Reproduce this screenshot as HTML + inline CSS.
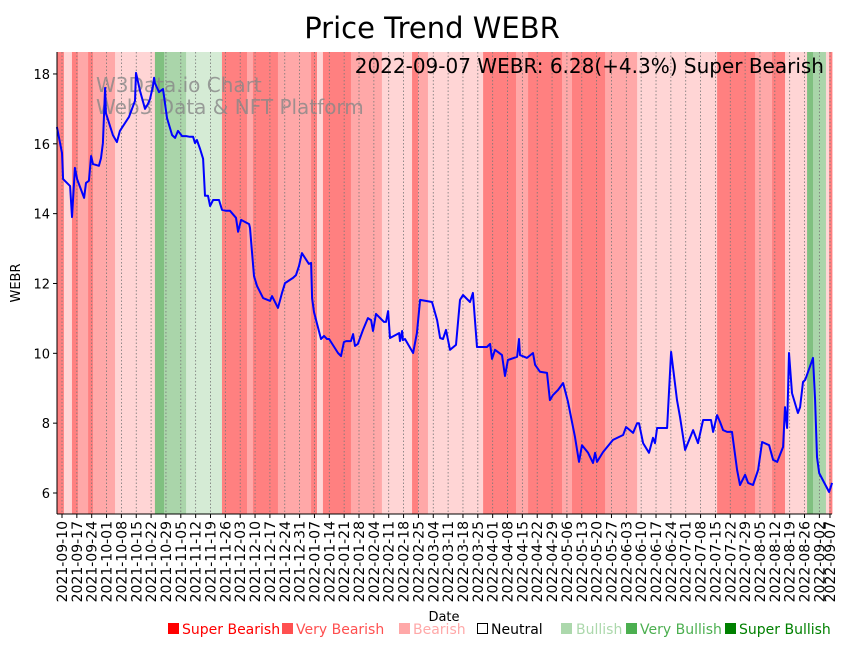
<!DOCTYPE html>
<html><head><meta charset="utf-8"><style>
body{margin:0;background:#fff;}
svg{display:block;font-family:"DejaVu Sans","Liberation Sans",sans-serif;}
</style></head><body>
<svg id="chart" width="851" height="646" viewBox="0 0 851 646" xmlns="http://www.w3.org/2000/svg">
<text x="432" y="38" font-size="29" text-anchor="middle">Price Trend WEBR</text>
<g id="bands"></g><g id="grid"></g>
<text x="96" y="92" font-size="20" fill="#888" opacity="0.8">W3Data.io Chart</text>
<text x="96" y="114" font-size="20" fill="#888" opacity="0.8">Web3 Data &amp; NFT Platform</text>
<g id="line"></g>
<text x="824" y="73" font-size="20" text-anchor="end">2022-09-07 WEBR: 6.28(+4.3%) Super Bearish</text>
<g id="axes"></g>
<text x="444" y="621" font-size="13" text-anchor="middle">Date</text>
<text transform="translate(20,283) rotate(-90)" font-size="13" text-anchor="middle">WEBR</text>
<g font-size="14">
<rect x="168" y="623" width="11" height="11" fill="#ff0000"/>
<text x="182" y="634" fill="#ff0000">Super Bearish</text>
<rect x="282" y="623" width="11" height="11" fill="#ff5050"/>
<text x="296" y="634" fill="#ff5050">Very Bearish</text>
<rect x="399" y="623" width="11" height="11" fill="#ffa8a8"/>
<text x="413" y="634" fill="#ffa8a8">Bearish</text>
<rect x="477.5" y="623.5" width="10" height="10" fill="none" stroke="#000"/>
<text x="491" y="634">Neutral</text>
<rect x="561" y="623" width="11" height="11" fill="#acd8ac"/>
<text x="576" y="634" fill="#acd8ac">Bullish</text>
<rect x="626" y="623" width="11" height="11" fill="#4caf50"/>
<text x="640" y="634" fill="#4caf50">Very Bullish</text>
<rect x="725" y="623" width="11" height="11" fill="#008000"/>
<text x="739" y="634" fill="#008000">Super Bullish</text>
</g>
</svg>
<script>
// days since 2021-09-10
const priceDays=[-2.4,0,0.5,3.8,4.7,6.1,7.1,10.4,11.3,12.7,13.7,14.6,17.4,18.4,19.3,20.3,20.7,24.0,25.9,27.3,31.6,34.4,34.9,36.8,39.1,40.5,41.5,42.9,43.4,43.8,45.7,47.6,49.5,51.9,53.3,54.7,56.6,58.5,60.3,61.8,62.7,63.6,65.1,66.5,67.4,68.8,69.8,71.2,74.0,75.4,77.3,79.2,82.0,83.0,84.4,88.2,88.6,90.5,91.9,94.8,98.1,99.0,101.8,103.7,105.1,108.9,110.3,111.7,113.1,116.4,117.4,117.9,118.8,122.1,123.5,124.9,125.9,130.1,131.5,132.9,133.9,136.2,137.2,138.1,139.5,141.9,144.2,145.7,146.6,148.0,151.8,152.7,153.7,154.6,157.5,158.9,159.3,160.3,160.7,161.7,165.5,167.3,168.8,174.4,176.8,178.2,179.6,181.0,182.9,185.7,187.6,189.0,192.3,193.7,195.6,200.3,201.8,202.7,204.1,207.4,208.8,210.2,214.5,215.4,215.9,219.2,222.0,223.0,225.3,228.6,230.0,231.5,233.8,236.2,238.5,241.8,243.7,245.1,248.0,250.3,251.3,252.2,255.0,259.7,264.5,265.9,269.2,271.1,272.0,273.9,276.7,278.6,279.5,280.5,285.2,287.1,289.9,291.3,293.7,297.5,299.8,302.2,305.9,306.9,308.8,310.2,311.6,313.5,315.8,318.2,319.6,322.0,323.4,325.7,328.1,330.0,333.3,335.2,337.1,339.9,340.8,341.8,342.7,344.1,346.9,347.9,349.3,350.3,354.0,355.0,355.9,356.9,361.6,363.0];
const priceValues=[16.48,15.74,14.99,14.79,13.90,15.31,14.99,14.45,14.88,14.94,15.65,15.42,15.37,15.59,16.02,17.60,16.88,16.25,16.05,16.37,16.77,17.23,18.03,17.51,17.00,17.14,17.28,17.66,17.89,17.74,17.48,17.57,16.74,16.25,16.17,16.37,16.22,16.22,16.20,16.20,16.02,16.11,15.85,15.57,14.51,14.51,14.22,14.39,14.39,14.11,14.08,14.08,13.88,13.48,13.82,13.70,13.59,12.21,11.93,11.58,11.50,11.64,11.30,11.73,12.01,12.16,12.24,12.50,12.87,12.56,12.59,11.58,11.18,10.41,10.50,10.41,10.41,10.01,9.92,10.32,10.35,10.35,10.55,10.21,10.27,10.67,11.01,10.95,10.64,11.13,10.90,10.90,11.21,10.44,10.53,10.58,10.35,10.64,10.38,10.41,10.01,10.58,11.53,11.47,10.95,10.44,10.41,10.67,10.10,10.24,11.53,11.67,11.47,11.73,10.18,10.18,10.27,9.84,10.10,9.95,9.35,9.81,9.90,10.41,9.95,9.87,10.01,9.67,9.47,9.44,8.66,8.81,8.95,9.15,8.61,7.60,6.89,7.37,7.15,6.86,7.15,6.89,7.17,7.52,7.66,7.89,7.72,8.00,8.00,7.43,7.15,7.58,7.43,7.86,7.86,10.04,8.66,8.18,7.23,7.80,7.43,8.09,8.09,7.75,8.23,8.03,7.80,7.75,7.75,6.66,6.23,6.52,6.29,6.23,6.66,7.46,7.37,6.95,6.89,7.32,8.46,7.86,10.01,8.86,8.29,8.46,9.18,9.24,9.87,8.66,7.03,6.57,6.03,6.29];
const bandBounds=[-2.4,0.9,4.7,7.5,12.3,14.6,25.0,43.8,48.1,58.5,75.4,87.2,90.0,101.8,117.4,120.2,123.0,136.2,150.8,165.0,167.8,172.5,198.5,214.0,219.7,235.7,240.4,256.0,271.1,308.8,326.7,334.7,340.8,351.2,354.0,360.1,361.6,363.0];
const bandLevels=[3,1,3,2,3,2,1,-3,-2,-1,3,2,3,2,3,1,3,2,1,3,2,1,3,2,3,2,3,2,1,3,2,3,1,-3,-2,1,3];
const yTicks=[6,8,10,12,14,16,18];
const xTickDays=[];for(let d=0;d<=357;d+=7)xTickDays.push(d);xTickDays.push(362);

const NS="http://www.w3.org/2000/svg";
const L=57,R=832,T=52,B=514;
const xs=d=>62+d*2.1215;
const ys=v=>493-(v-6)*34.92;
function mk(tag,attrs,parent){const e=document.createElementNS(NS,tag);for(const k in attrs)e.setAttribute(k,attrs[k]);parent.appendChild(e);return e;}
const levelColor={3:"#ff8080","2":"#ffa8a8","1":"#ffd5d5","-1":"#d5ebd5","-2":"#aad5aa","-3":"#80c080"};
const gB=document.getElementById('bands');
for(let i=0;i<bandLevels.length;i++){
  const x0=xs(bandBounds[i]),x1=xs(bandBounds[i+1]);
  const r=mk('rect',{x:x0,y:T,width:Math.max(0,x1-x0)+0.3,height:B-T,fill:levelColor[bandLevels[i]]},gB);
  
  
}
const gG=document.getElementById('grid');
const gA=document.getElementById('axes');
const base=new Date(Date.UTC(2021,8,10));
xTickDays.forEach(d=>{
  const x=xs(d);
  const g=mk('line',{x1:x,x2:x,y1:T,y2:B,stroke:"#777","stroke-width":0.8,"stroke-dasharray":"1.5,2"},gG);
  
  
  const t=mk('line',{x1:x,x2:x,y1:B,y2:B+4,stroke:"#000","stroke-width":1},gA);
  
  
  const dt=new Date(base.getTime()+d*86400000);
  const lbl=dt.toISOString().slice(0,10);
  const tx=mk('text',{transform:`translate(${x+5},${B+7}) rotate(-90)`,"font-size":14,"text-anchor":"end"},gA);
  tx.textContent=lbl;
  
  
});
yTicks.forEach(v=>{
  const y=ys(v);
  const t=mk('line',{x1:L-4,x2:L,y1:y,y2:y,stroke:"#000"},gA);
  
  
  const tx=mk('text',{x:L-7,y:y+5,"font-size":13,"text-anchor":"end"},gA);
  tx.textContent=v;
  
  
});
const ax1=mk('line',{x1:L,x2:L,y1:T,y2:B,stroke:"#000","stroke-width":1},gA);


const ax2=mk('line',{x1:L,x2:R,y1:B,y2:B,stroke:"#000","stroke-width":1},gA);


const pts=priceDays.map((d,i)=>xs(d).toFixed(1)+","+ys(priceValues[i]).toFixed(1)).join(" ");
const pl=mk('polyline',{points:pts,fill:"none",stroke:"#0000ff","stroke-width":2,"stroke-linejoin":"round"},document.getElementById('line'));


</script>
</body></html>
